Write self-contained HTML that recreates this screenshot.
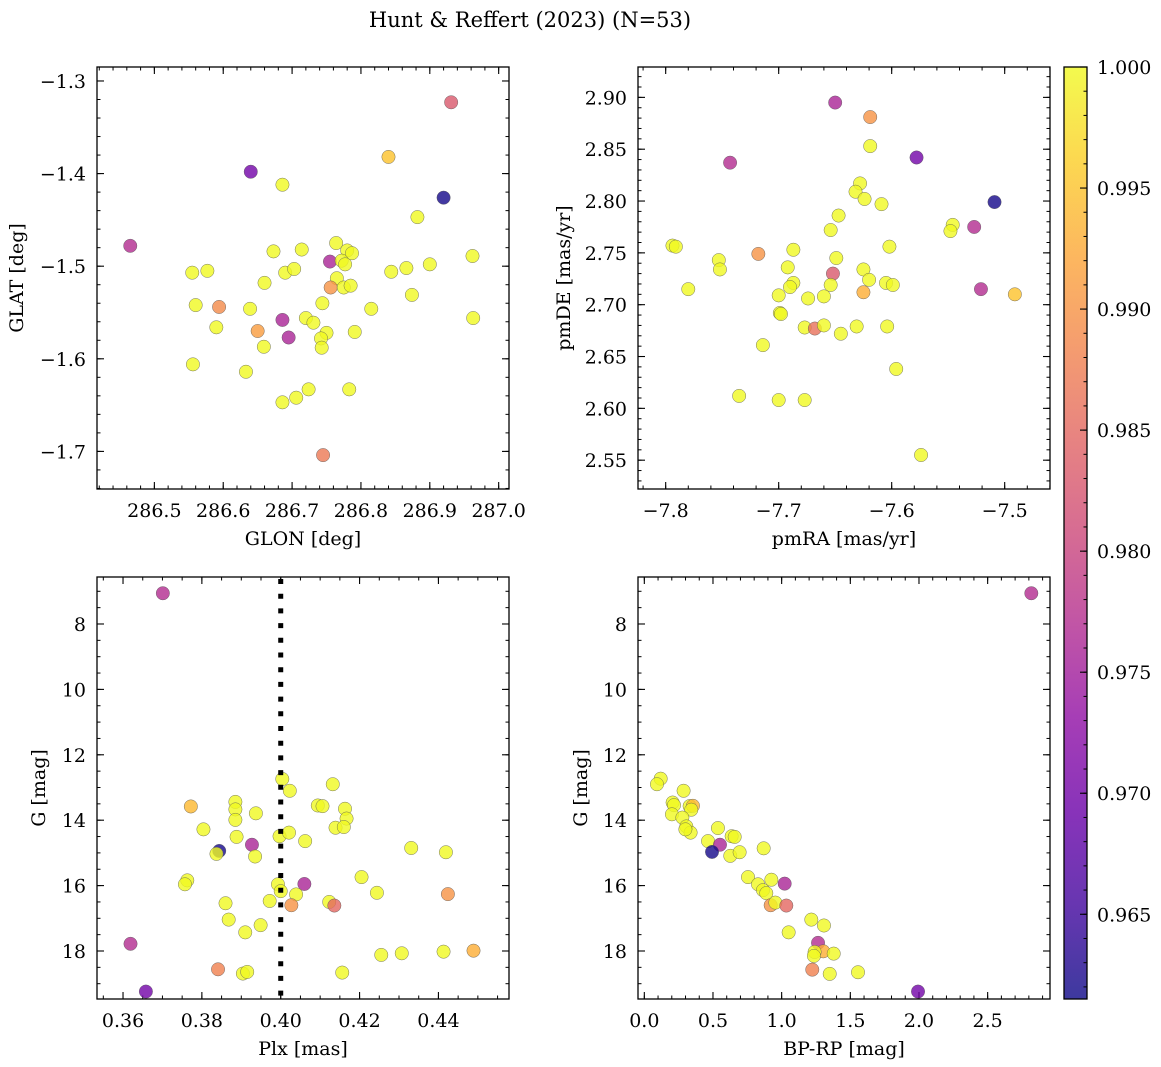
<!DOCTYPE html>
<html><head><meta charset="utf-8">
<style>
html,body{margin:0;padding:0;background:#fff;}
svg{display:block;font-family:"DejaVu Serif","Liberation Serif",serif;}
</style></head>
<body>
<svg id="fig" width="1161" height="1067" viewBox="0 0 1161 1067" xmlns="http://www.w3.org/2000/svg">
<defs>
<linearGradient id="plasmaGrad" x1="0" y1="1" x2="0" y2="0">
<stop offset="0" stop-color="#0d0887"/><stop offset="0.1" stop-color="#41049d"/><stop offset="0.2" stop-color="#6a00a8"/><stop offset="0.3" stop-color="#8f0da4"/><stop offset="0.4" stop-color="#b12a90"/><stop offset="0.5" stop-color="#cc4778"/><stop offset="0.6" stop-color="#e16462"/><stop offset="0.7" stop-color="#f2844b"/><stop offset="0.8" stop-color="#fca636"/><stop offset="0.9" stop-color="#fcce25"/><stop offset="1" stop-color="#f0f921"/>
</linearGradient>
</defs>
<text x="530" y="27" font-size="21" text-anchor="middle">Hunt &amp; Reffert (2023) (N=53)</text>
</svg>
<script>
// ---- Panel 1: position ----
const glon=[286.931,286.840,286.640,286.686,286.920,286.882,286.465,286.673,286.714,286.764,286.780,286.787,286.755,286.772,286.777,286.962,286.555,286.577,286.690,286.703,286.844,286.866,286.900,286.660,286.765,286.756,286.775,286.785,286.874,286.560,286.594,286.639,286.744,286.815,286.963,286.590,286.686,286.720,286.731,286.650,286.695,286.750,286.742,286.743,286.791,286.659,286.556,286.633,286.724,286.706,286.686,286.783,286.745];
const glat=[-1.323,-1.382,-1.398,-1.412,-1.426,-1.447,-1.478,-1.484,-1.482,-1.475,-1.483,-1.486,-1.495,-1.494,-1.498,-1.489,-1.507,-1.505,-1.507,-1.503,-1.506,-1.502,-1.498,-1.518,-1.513,-1.523,-1.523,-1.521,-1.531,-1.542,-1.544,-1.546,-1.540,-1.546,-1.556,-1.566,-1.558,-1.556,-1.561,-1.570,-1.577,-1.572,-1.578,-1.588,-1.571,-1.587,-1.606,-1.614,-1.633,-1.642,-1.647,-1.633,-1.704];
const probPos=[.983,.995,.970,1,.962,1,.977,1,1,1,1,1,.976,1,1,1,1,1,1,1,1,1,1,1,1,.990,1,1,1,1,.989,1,1,1,1,1,.976,1,1,.991,.976,1,1,1,1,1,1,1,1,1,1,1,.987];
const glonTicks=[286.5,286.6,286.7,286.8,286.9,287.0];
const glatTicks=[-1.3,-1.4,-1.5,-1.6,-1.7];
// ---- Panel 2: proper motion ----
const pmra=[-7.650,-7.619,-7.619,-7.578,-7.743,-7.509,-7.628,-7.632,-7.624,-7.609,-7.647,-7.654,-7.546,-7.548,-7.527,-7.794,-7.791,-7.687,-7.602,-7.753,-7.752,-7.718,-7.649,-7.692,-7.652,-7.625,-7.620,-7.605,-7.599,-7.687,-7.690,-7.654,-7.780,-7.700,-7.674,-7.660,-7.625,-7.521,-7.491,-7.699,-7.698,-7.677,-7.668,-7.660,-7.645,-7.631,-7.604,-7.714,-7.596,-7.735,-7.700,-7.677,-7.574];
const pmde=[2.895,2.881,2.853,2.842,2.837,2.799,2.817,2.809,2.802,2.797,2.786,2.772,2.777,2.771,2.775,2.757,2.756,2.753,2.756,2.743,2.734,2.749,2.745,2.736,2.730,2.734,2.724,2.721,2.719,2.721,2.717,2.719,2.715,2.709,2.706,2.708,2.712,2.715,2.710,2.692,2.691,2.678,2.677,2.680,2.672,2.679,2.679,2.661,2.638,2.612,2.608,2.608,2.555];
const probPm=[.976,.990,1,.970,.977,.962,1,1,1,1,1,1,1,1,.977,1,1,1,1,1,1,.990,1,1,.983,1,1,1,1,1,1,1,1,1,1,1,.993,.977,.995,1,1,1,.986,1,1,1,1,1,1,1,1,1,1];
const pmraTicks=[-7.8,-7.7,-7.6,-7.5];
const pmdeTicks=[2.55,2.60,2.65,2.70,2.75,2.80,2.85,2.90];
// ---- Panel 3: parallax vs G ----
const plx=[0.3701,0.4004,0.4023,0.4132,0.3772,0.3885,0.3885,0.3937,0.3885,0.4094,0.4106,0.4163,0.4167,0.4139,0.4160,0.3804,0.3888,0.3997,0.4021,0.4062,0.3927,0.3844,0.3837,0.3935,0.4331,0.4419,0.4060,0.3763,0.3757,0.4205,0.3993,0.4000,0.4039,0.4244,0.4424,0.3860,0.3972,0.4027,0.4123,0.4136,0.3868,0.3949,0.3910,0.3619,0.4255,0.4307,0.4413,0.4489,0.3841,0.3904,0.3915,0.4156,0.3658];
const gPlx=[7.06,12.74,13.10,12.90,13.58,13.44,13.67,13.79,13.99,13.55,13.57,13.65,13.95,14.23,14.21,14.28,14.51,14.49,14.38,14.64,14.75,14.94,15.03,15.11,14.85,14.98,15.95,15.84,15.96,15.74,15.96,16.17,16.27,16.22,16.26,16.54,16.47,16.60,16.50,16.61,17.04,17.21,17.43,17.78,18.12,18.07,18.02,17.99,18.56,18.69,18.64,18.66,19.24];
const probPlx=[.977,1,1,1,.994,1,1,1,1,1,1,1,1,1,1,1,1,1,1,1,.976,.962,1,1,1,1,.976,1,1,1,1,1,1,1,.990,1,1,.990,1,.985,1,1,1,.977,1,1,1,.993,.988,1,1,1,.970];
const plxTicks=[0.36,0.38,0.40,0.42,0.44];
const plxRef=[0.40];
const gTicks=[8,10,12,14,16,18];
// ---- Panel 4: CMD ----
const bprp=[2.818,0.119,0.092,0.286,0.206,0.216,0.201,0.330,0.354,0.342,0.277,0.306,0.337,0.299,0.536,0.464,0.551,0.493,0.636,0.658,0.626,0.694,0.869,0.755,0.828,0.864,0.888,0.925,1.022,0.920,0.954,1.034,1.216,1.308,1.051,1.265,1.303,1.240,1.235,1.379,1.223,1.350,1.556,1.993];
const gCmd=[7.06,12.73,12.90,13.10,13.46,13.54,13.82,13.57,13.56,13.68,13.92,14.19,14.38,14.28,14.24,14.64,14.75,14.97,14.49,14.51,15.09,14.98,14.86,15.74,15.96,16.14,16.23,15.82,15.94,16.60,16.52,16.61,17.04,17.22,17.43,17.75,18.01,18.03,18.15,18.08,18.57,18.70,18.65,19.24];
const probCmd=[.977,1,1,1,1,1,1,1,.994,1,1,1,1,1,1,1,.976,.962,1,1,1,1,1,1,1,1,1,1,.976,.990,1,.985,1,1,1,.977,.993,1,1,1,.988,1,1,.970];
const bprpTicks=[0.0,0.5,1.0,1.5,2.0,2.5];
// ---- Colorbar ----
const cbTicks=[0.965,0.970,0.975,0.980,0.985,0.990,0.995,1.000];
const cbMin=0.9615, cbMax=1.0;

const NS="http://www.w3.org/2000/svg";
const svg=document.getElementById('fig');
function mk(tag,attrs,parent){const e=document.createElementNS(NS,tag);for(const k in attrs)e.setAttribute(k,attrs[k]);(parent||svg).appendChild(e);return e;}
function lin(d0,d1,r0,r1){return v=>r0+(v-d0)/(d1-d0)*(r1-r0);}
const stops=[[13,8,135],[65,4,157],[106,0,168],[143,13,164],[177,42,144],[204,71,120],[225,100,98],[242,132,75],[252,166,54],[252,206,37],[240,249,33]];
function plasma(p){let t=(p-cbMin)/(cbMax-cbMin);t=Math.max(0,Math.min(1,t));const f=t*10,i=Math.min(9,Math.floor(f)),u=f-i;const a=stops[i],b=stops[i+1];return 'rgb('+a.map((c,k)=>Math.round(c+(b[k]-c)*u)).join(',')+')';}
function fmtMinus(s){return s.replace('-','\u2212');}
const FS=19;

function drawPanel(name,box,xd,yd,xs,ys,ps,xMaj,xStep,yMaj,yStep,xdec,ydec,xlabel,ylabel){
  const g=mk('g',{});
  
  
  const sx=lin(xd[0],xd[1],box.x,box.x+box.w), sy=lin(yd[0],yd[1],box.y,box.y+box.h);
  const bg=mk('rect',{x:box.x,y:box.y,width:box.w,height:box.h,fill:'#fff'},g);
  
  
  const xlo=Math.min(xd[0],xd[1]),xhi=Math.max(xd[0],xd[1]);
  for(let k=Math.ceil(xlo/xStep-1e-6);k<=Math.floor(xhi/xStep+1e-6);k++){
    const X=sx(k*xStep);
    const t1=mk('line',{x1:X,x2:X,y1:box.y+box.h,y2:box.y+box.h-3.5,stroke:'#000','stroke-width':1},g);
    
    
    const t2=mk('line',{x1:X,x2:X,y1:box.y,y2:box.y+3.5,stroke:'#000','stroke-width':1},g);
    
    
  }
  const ylo=Math.min(yd[0],yd[1]),yhi=Math.max(yd[0],yd[1]);
  for(let k=Math.ceil(ylo/yStep-1e-6);k<=Math.floor(yhi/yStep+1e-6);k++){
    const Y=sy(k*yStep);
    const t1=mk('line',{x1:box.x,x2:box.x+3.5,y1:Y,y2:Y,stroke:'#000','stroke-width':1},g);
    
    
    const t2=mk('line',{x1:box.x+box.w,x2:box.x+box.w-3.5,y1:Y,y2:Y,stroke:'#000','stroke-width':1},g);
    
    
  }
  xMaj.forEach(v=>{
    const X=sx(v);
    const t1=mk('line',{x1:X,x2:X,y1:box.y+box.h,y2:box.y+box.h-7,stroke:'#000','stroke-width':1.1},g);
    
    
    const t2=mk('line',{x1:X,x2:X,y1:box.y,y2:box.y+7,stroke:'#000','stroke-width':1.1},g);
    
    
    const lb=mk('text',{x:X,y:box.y+box.h+28,'font-size':FS,'text-anchor':'middle'},g);
    lb.textContent=fmtMinus(v.toFixed(xdec));
    
    
  });
  yMaj.forEach(v=>{
    const Y=sy(v);
    const t1=mk('line',{x1:box.x,x2:box.x+7,y1:Y,y2:Y,stroke:'#000','stroke-width':1.1},g);
    
    
    const t2=mk('line',{x1:box.x+box.w,x2:box.x+box.w-7,y1:Y,y2:Y,stroke:'#000','stroke-width':1.1},g);
    
    
    const lb=mk('text',{x:box.x-11,y:Y+7,'font-size':FS,'text-anchor':'end'},g);
    lb.textContent=fmtMinus(v.toFixed(ydec));
    
    
  });
  for(let i=0;i<xs.length;i++){
    const c=mk('circle',{cx:sx(xs[i]),cy:sy(ys[i]),r:6.7,fill:plasma(ps[i]),'fill-opacity':0.8,stroke:'#555','stroke-opacity':0.8,'stroke-width':0.5},g);
    
    
  }
  const fr=mk('rect',{x:box.x,y:box.y,width:box.w,height:box.h,fill:'none',stroke:'#000','stroke-width':1.3},g);
  
  
  const xl=mk('text',{x:box.x+box.w/2,y:box.y+box.h+56,'font-size':FS,'text-anchor':'middle'},g);
  xl.textContent=xlabel;
  
  
  const lx=box.lx, ly=box.y+box.h/2;
  const yl=mk('text',{x:lx,y:ly,'font-size':FS,'text-anchor':'middle',transform:'rotate(-90 '+lx+' '+ly+')'},g);
  yl.textContent=ylabel;
  
  
  return {sx,sy,g};
}

drawPanel('position-panel',{x:97,y:67,w:412,h:422,lx:23},[286.4167,287.015],[-1.2849,-1.7406],glon,glat,probPos,glonTicks,0.02,glatTicks,0.02,1,1,'GLON [deg]','GLAT [deg]');
drawPanel('proper-motion-panel',{x:638,y:67,w:412,h:422,lx:570},[-7.8245,-7.4599],[2.9293,2.5222],pmra,pmde,probPm,pmraTicks,0.02,pmdeTicks,0.01,1,2,'pmRA [mas/yr]','pmDE [mas/yr]');
const p3=drawPanel('parallax-panel',{x:97,y:577,w:412,h:422,lx:45},[0.3534,0.4579],[6.563,19.468],plx,gPlx,probPlx,plxTicks,0.005,gTicks,0.5,2,0,'Plx [mas]','G [mag]');
drawPanel('cmd-panel',{x:638,y:577,w:412,h:422,lx:587},[-0.046,2.954],[6.563,19.468],bprp,gCmd,probCmd,bprpTicks,0.1,gTicks,0.5,1,0,'BP-RP [mag]','G [mag]');
plxRef.forEach(v=>{
  const X=p3.sx(v);
  const l=mk('line',{x1:X,x2:X,y1:579,y2:999,stroke:'#000','stroke-width':5,'stroke-dasharray':'5 9.7'},p3.g);
  
  
});

const cb={x:1064,y:67,w:23,h:932};
const cbg=mk('g',{});


const cr=mk('rect',{x:cb.x,y:cb.y,width:cb.w,height:cb.h,fill:'url(#plasmaGrad)','fill-opacity':0.8},cbg);


const cy=lin(cbMin,cbMax,cb.y+cb.h,cb.y);
for(let k=Math.ceil(cbMin/0.001);k<=Math.floor(cbMax/0.001+1e-6);k++){
  const Y=cy(k*0.001);
  const t=mk('line',{x1:cb.x+cb.w,x2:cb.x+cb.w-3.5,y1:Y,y2:Y,stroke:'#000','stroke-width':1},cbg);
  
  
}
cbTicks.forEach(v=>{
  const Y=cy(v);
  const t=mk('line',{x1:cb.x+cb.w,x2:cb.x+cb.w-7,y1:Y,y2:Y,stroke:'#000','stroke-width':1.1},cbg);
  
  
  const lb=mk('text',{x:cb.x+cb.w+10,y:Y+7,'font-size':FS},cbg);
  lb.textContent=v.toFixed(3);
  
  
});
const cf=mk('rect',{x:cb.x,y:cb.y,width:cb.w,height:cb.h,fill:'none',stroke:'#000','stroke-width':1.3},cbg);


</script>
</body></html>
